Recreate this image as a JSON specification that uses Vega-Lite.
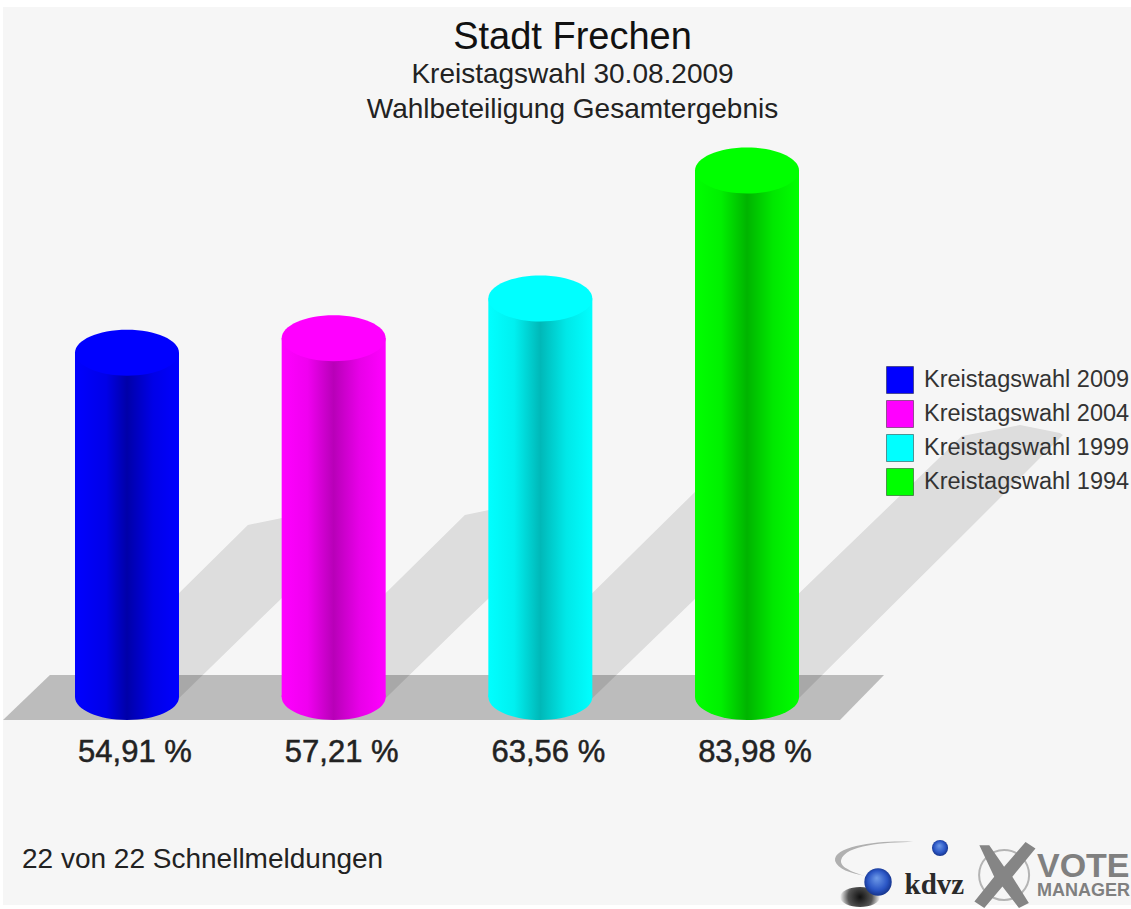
{
"$schema":"https://vega.github.io/schema/vega-lite/v6.json",
"width":1131,"height":909,"padding":0,"autosize":{"type":"none"},
"background":"#ffffff",
"config":{"axis":{"disable":true},"view":{"stroke":null},"font":"Liberation Sans"},
"title":{"text":"Stadt Frechen","subtitle":["Kreistagswahl 30.08.2009","Wahlbeteiligung Gesamtergebnis"],"anchor":"middle","frame":"group","dx":7,"dy":128,"fontSize":38,"fontWeight":"normal","color":"#111111","font":"Liberation Sans","subtitleFont":"Liberation Sans","subtitleFontSize":28,"subtitleColor":"#222222","subtitleLineHeight":35,"subtitlePadding":4},
"datasets":{
"bars":[
{"series":"Kreistagswahl 2009","pos":1,"value":54.91,"label":"54,91 %"},
{"series":"Kreistagswahl 2004","pos":2,"value":57.21,"label":"57,21 %"},
{"series":"Kreistagswahl 1999","pos":3,"value":63.56,"label":"63,56 %"},
{"series":"Kreistagswahl 1994","pos":4,"value":83.98,"label":"83,98 %"}],
"panel":[{"a":0.4,"b":5.858,"top":110.05,"bottom":-33.17}],
"floor":[{"a":0.4,"top":-3.67,"bottom":-3.67},{"a":0.627,"top":3.51,"bottom":-3.67},{"a":4.45,"top":3.51,"bottom":-3.67},{"a":4.663,"top":3.51,"bottom":3.51}],
"shadow":[
{"s":"a","a":1.208,"top":15.15,"bottom":-1.59},{"s":"a","a":1.585,"top":27.43,"bottom":10.53},{"s":"a","a":1.75,"top":28.55,"bottom":15.79},{"s":"a","a":1.813,"top":28.55,"bottom":17.7},
{"s":"b","a":2.208,"top":15.15,"bottom":-1.59},{"s":"b","a":2.635,"top":29.03,"bottom":12.12},{"s":"b","a":2.752,"top":29.82,"bottom":15.79},{"s":"b","a":2.815,"top":29.82,"bottom":17.86},
{"s":"c","a":3.208,"top":15.15,"bottom":-1.59},{"s":"c","a":3.748,"top":32.7,"bottom":15.63},{"s":"c","a":3.821,"top":34.6,"bottom":18.02},
{"s":"d","a":4.208,"top":15.15,"bottom":-1.59},{"s":"d","a":5.04,"top":41.63,"bottom":25.68},{"s":"d","a":5.321,"top":43.38,"bottom":34.93},{"s":"d","a":5.514,"top":42.11,"bottom":41.31},{"s":"d","a":5.529,"top":41.79,"bottom":41.79}]
},
"layer":[
{"data":{"name":"panel"},"mark":{"type":"rect","fill":"#f6f6f6"},"encoding":{
"x":{"field":"a","type":"quantitative","scale":{"domain":[0.3855,5.858],"nice":false,"zero":false,"padding":0}},"x2":{"field":"b"},
"y":{"field":"top","type":"quantitative","scale":{"domain":[-33.81,111.16],"nice":false,"zero":false,"padding":0}},"y2":{"field":"bottom"}}},
{"data":{"name":"floor"},"mark":{"type":"area","fill":"#bcbcbc","orient":"vertical"},"encoding":{
"x":{"field":"a","type":"quantitative"},"y":{"field":"top","type":"quantitative"},"y2":{"field":"bottom"}}},
{"data":{"name":"shadow"},"mark":{"type":"area","fill":"#000000","opacity":0.1,"orient":"vertical"},"encoding":{
"x":{"field":"a","type":"quantitative"},"y":{"field":"top","type":"quantitative"},"y2":{"field":"bottom"},"detail":{"field":"s"}}},
{"data":{"name":"bars"},"transform":[{"filter":"datum.pos==1"}],"layer":[
{"mark":{"type":"bar","orient":"vertical","width":104,"fill":{"gradient":"linear","x1":0,"x2":1,"y1":0,"y2":0,"stops":[{"offset":0,"color":"#0000ff"},{"offset":0.3,"color":"#0000e8"},{"offset":0.5,"color":"#0000a8"},{"offset":0.75,"color":"#0000e8"},{"offset":1,"color":"#0000ff"}]}},"encoding":{"x":{"field":"pos","type":"quantitative"},"y":{"field":"value","type":"quantitative"},"y2":{"datum":0}}},
{"mark":{"type":"point","filled":true,"opacity":1,"size":10816,"shape":"M-1,0C-1,-0.244 -0.552,-0.442 0,-0.442C0.552,-0.442 1,-0.244 1,0C1,0.244 0.552,0.442 0,0.442C-0.552,0.442 -1,0.244 -1,0Z","fill":{"gradient":"linear","x1":0,"x2":1,"y1":0,"y2":0,"stops":[{"offset":0,"color":"#0000ff"},{"offset":0.3,"color":"#0000e8"},{"offset":0.5,"color":"#0000a8"},{"offset":0.75,"color":"#0000e8"},{"offset":1,"color":"#0000ff"}]}},"encoding":{"x":{"field":"pos","type":"quantitative"},"y":{"datum":0}}}]},
{"data":{"name":"bars"},"transform":[{"filter":"datum.pos==2"}],"layer":[
{"mark":{"type":"bar","orient":"vertical","width":104,"fill":{"gradient":"linear","x1":0,"x2":1,"y1":0,"y2":0,"stops":[{"offset":0,"color":"#ff00ff"},{"offset":0.25,"color":"#f000f0"},{"offset":0.5,"color":"#b800b8"},{"offset":0.75,"color":"#e800e8"},{"offset":1,"color":"#ff00ff"}]}},"encoding":{"x":{"field":"pos","type":"quantitative"},"y":{"field":"value","type":"quantitative"},"y2":{"datum":0}}},
{"mark":{"type":"point","filled":true,"opacity":1,"size":10816,"shape":"M-1,0C-1,-0.244 -0.552,-0.442 0,-0.442C0.552,-0.442 1,-0.244 1,0C1,0.244 0.552,0.442 0,0.442C-0.552,0.442 -1,0.244 -1,0Z","fill":{"gradient":"linear","x1":0,"x2":1,"y1":0,"y2":0,"stops":[{"offset":0,"color":"#ff00ff"},{"offset":0.25,"color":"#f000f0"},{"offset":0.5,"color":"#b800b8"},{"offset":0.75,"color":"#e800e8"},{"offset":1,"color":"#ff00ff"}]}},"encoding":{"x":{"field":"pos","type":"quantitative"},"y":{"datum":0}}}]},
{"data":{"name":"bars"},"transform":[{"filter":"datum.pos==3"}],"layer":[
{"mark":{"type":"bar","orient":"vertical","width":104,"fill":{"gradient":"linear","x1":0,"x2":1,"y1":0,"y2":0,"stops":[{"offset":0,"color":"#00ffff"},{"offset":0.25,"color":"#00f0f0"},{"offset":0.5,"color":"#00b8b8"},{"offset":0.75,"color":"#00e8e8"},{"offset":1,"color":"#00ffff"}]}},"encoding":{"x":{"field":"pos","type":"quantitative"},"y":{"field":"value","type":"quantitative"},"y2":{"datum":0}}},
{"mark":{"type":"point","filled":true,"opacity":1,"size":10816,"shape":"M-1,0C-1,-0.244 -0.552,-0.442 0,-0.442C0.552,-0.442 1,-0.244 1,0C1,0.244 0.552,0.442 0,0.442C-0.552,0.442 -1,0.244 -1,0Z","fill":{"gradient":"linear","x1":0,"x2":1,"y1":0,"y2":0,"stops":[{"offset":0,"color":"#00ffff"},{"offset":0.25,"color":"#00f0f0"},{"offset":0.5,"color":"#00b8b8"},{"offset":0.75,"color":"#00e8e8"},{"offset":1,"color":"#00ffff"}]}},"encoding":{"x":{"field":"pos","type":"quantitative"},"y":{"datum":0}}}]},
{"data":{"name":"bars"},"transform":[{"filter":"datum.pos==4"}],"layer":[
{"mark":{"type":"bar","orient":"vertical","width":104,"fill":{"gradient":"linear","x1":0,"x2":1,"y1":0,"y2":0,"stops":[{"offset":0,"color":"#00ff00"},{"offset":0.25,"color":"#00f000"},{"offset":0.5,"color":"#00b400"},{"offset":0.75,"color":"#00e800"},{"offset":1,"color":"#00ff00"}]}},"encoding":{"x":{"field":"pos","type":"quantitative"},"y":{"field":"value","type":"quantitative"},"y2":{"datum":0}}},
{"mark":{"type":"point","filled":true,"opacity":1,"size":10816,"shape":"M-1,0C-1,-0.244 -0.552,-0.442 0,-0.442C0.552,-0.442 1,-0.244 1,0C1,0.244 0.552,0.442 0,0.442C-0.552,0.442 -1,0.244 -1,0Z","fill":{"gradient":"linear","x1":0,"x2":1,"y1":0,"y2":0,"stops":[{"offset":0,"color":"#00ff00"},{"offset":0.25,"color":"#00f000"},{"offset":0.5,"color":"#00b400"},{"offset":0.75,"color":"#00e800"},{"offset":1,"color":"#00ff00"}]}},"encoding":{"x":{"field":"pos","type":"quantitative"},"y":{"datum":0}}}]},
{"data":{"name":"bars"},"mark":{"type":"point","filled":true,"opacity":1,"size":10816,"shape":"M-1,0C-1,-0.244 -0.552,-0.442 0,-0.442C0.552,-0.442 1,-0.244 1,0C1,0.244 0.552,0.442 0,0.442C-0.552,0.442 -1,0.244 -1,0Z"},"encoding":{
"x":{"field":"pos","type":"quantitative"},"y":{"field":"value","type":"quantitative"},
"color":{"field":"series","type":"nominal","sort":null,"scale":{"domain":["Kreistagswahl 2009","Kreistagswahl 2004","Kreistagswahl 1999","Kreistagswahl 1994"],"range":["#0000ff","#ff00ff","#00ffff","#00ff00"]},
"legend":{"title":null,"orient":"none","legendX":886,"legendY":366,"symbolType":"square","symbolSize":729,"symbolOpacity":1,"symbolStrokeColor":"#00000066","symbolStrokeWidth":1,"labelFontSize":23.5,"labelFont":"Liberation Sans","labelColor":"#333333","labelOffset":10,"rowPadding":2,"labelLimit":240}}}},
{"data":{"name":"bars"},"mark":{"type":"text","font":"Liberation Sans","fontSize":31,"fill":"#222222","stroke":"#222222","strokeWidth":0.5,"align":"center","baseline":"alphabetic","dx":8},"encoding":{"x":{"field":"pos","type":"quantitative"},"y":{"datum":-10.37},"text":{"field":"label"}}},
{"data":{"values":[{"a":0.492,"b":-27.27,"t":"22 von 22 Schnellmeldungen"}]},"mark":{"type":"text","font":"Liberation Sans","fontSize":28,"fill":"#222222","align":"left","baseline":"alphabetic"},"encoding":{"x":{"field":"a","type":"quantitative"},"y":{"field":"b","type":"quantitative"},"text":{"field":"t"}}},
{"data":{"values":[{"a":4.644,"b":-25.2}]},"mark":{"type":"point","filled":true,"opacity":1,"size":10000,"fill":"#b0b0b0","shape":"M0.66,-0.26C0.1,-0.3 -0.95,-0.2 -0.9,0.12C-0.85,0.28 -0.6,0.36 -0.3,0.42C-0.7,0.3 -0.8,0.2 -0.78,0.1C-0.7,-0.2 0.1,-0.26 0.66,-0.26Z"},"encoding":{"x":{"field":"a","type":"quantitative"},"y":{"field":"b","type":"quantitative"}}},
{"data":{"values":[{"a":4.547,"b":-31.9}]},"mark":{"type":"point","filled":true,"opacity":1,"size":1600,"shape":"M-1,0C-1,-0.3 -0.5,-0.5 0,-0.5C0.5,-0.5 1,-0.3 1,0C1,0.3 0.5,0.5 0,0.5C-0.5,0.5 -1,0.3 -1,0Z","fill":{"gradient":"radial","stops":[{"offset":0,"color":"#111111"},{"offset":0.6,"color":"#555555"},{"offset":1,"color":"#f6f6f6"}]}},"encoding":{"x":{"field":"a","type":"quantitative"},"y":{"field":"b","type":"quantitative"}}},
{"data":{"values":[{"a":4.634,"b":-29.51,"s":750},{"a":4.934,"b":-24.08,"s":260}]},"mark":{"type":"point","shape":"circle","filled":true,"opacity":1,"fill":{"gradient":"radial","x1":0.45,"y1":0.35,"x2":0.5,"y2":0.5,"r1":0,"r2":0.6,"stops":[{"offset":0,"color":"#6f9be8"},{"offset":0.6,"color":"#2a55c4"},{"offset":1,"color":"#0c2470"}]}},"encoding":{"x":{"field":"a","type":"quantitative"},"y":{"field":"b","type":"quantitative"},"size":{"field":"s","type":"quantitative","scale":null,"legend":null}}},
{"data":{"values":[{"a":4.83,"b":-31.4,"t":"kdvz"}]},"mark":{"type":"text","font":"Liberation Serif","fontWeight":"bold","fontSize":29,"fill":"#2a2a2a","align":"left","baseline":"alphabetic","dx":-14},"encoding":{"x":{"field":"a","type":"quantitative"},"y":{"field":"b","type":"quantitative"},"text":{"field":"t"}}},
{"data":{"values":[{"a":5.244,"b":-28.39}]},"mark":{"type":"point","shape":"circle","size":2500,"filled":false,"opacity":1,"stroke":"#b4b4b4","strokeWidth":2},"encoding":{"x":{"field":"a","type":"quantitative"},"y":{"field":"b","type":"quantitative"}}},
{"data":{"values":[{"a":5.244,"b":-28.39}]},"mark":{"type":"point","filled":true,"opacity":1,"size":4356,"fill":"#858585","shape":"M-0.75,-0.9L-0.45,-0.9L0,-0.25L0.65,-1L0.95,-0.8L0.25,0.05L0.75,0.85L0.45,1L-0.05,0.35L-0.6,1L-0.9,0.8L-0.3,0.05Z"},"encoding":{"x":{"field":"a","type":"quantitative"},"y":{"field":"b","type":"quantitative"}}},
{"data":{"values":[{"a":5.403,"b":-28.71,"t":"VOTE","f":34},{"a":5.403,"b":-31.74,"t":"MANAGER","f":18}]},"mark":{"type":"text","font":"Liberation Sans","fontWeight":"bold","fill":"#808080","align":"left","baseline":"alphabetic"},"encoding":{"x":{"field":"a","type":"quantitative"},"y":{"field":"b","type":"quantitative"},"text":{"field":"t"},"size":{"field":"f","type":"quantitative","scale":null,"legend":null}}}
]
}
